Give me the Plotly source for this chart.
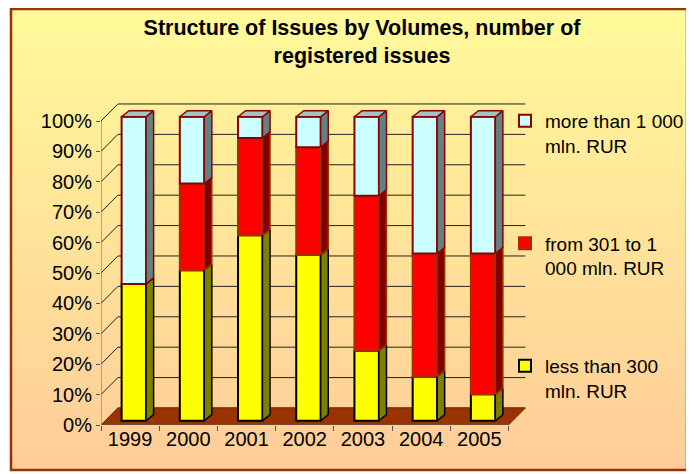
import base64
import plotly.graph_objects as go

# ---------------- data ----------------
years = ["1999", "2000", "2001", "2002", "2003", "2004", "2005"]
less_300 = [45.0, 49.5, 61.0, 54.5, 23.0, 14.5, 8.7]
from_301_1000 = [0.0, 28.5, 32.0, 35.5, 51.0, 40.5, 46.3]
more_1000 = [55.0, 22.0, 7.0, 10.0, 26.0, 45.0, 45.0]
series_names = ["less than 300<br>mln. RUR",
                "from 301 to 1<br>000 mln. RUR",
                "more than 1 000<br>mln. RUR"]
y_tick_vals = [0, 10, 20, 30, 40, 50, 60, 70, 80, 90, 100]
y_tick_text = [f"{v}%" for v in y_tick_vals]

# ---------------- style / geometry ----------------
# the page body has an 8px margin, so the figure is 8px smaller than the window
FONT = "Liberation Sans, Arial, sans-serif"
W, H = 686, 466
ML, MR, MT, MB = 93, 164, 87, 49
PW, PH = W - ML - MR, H - MT - MB
PX_PER_X = 58.21
PX_PER_Y = 3.04
XMIN = -0.5
XMAX = XMIN + PW / PX_PER_X
YMAX = PH / PX_PER_Y

DEPTH_X, DEPTH_Y = 0.29, 5.6          # full depth of the 3D box
BAR_OFF_X, BAR_OFF_Y = 0.064, 1.4      # bar front face offset inside box
BAR_W = 0.42
BAR_DX, BAR_DY = 0.13, 2.0             # bar depth

front_cols = ["#FFFF00", "#FF0000", "#CCFFFF"]
side_cols = ["#808000", "#800000", "#628282"]
line_cols = ["#000000", "#A33000", "#8B0000"]
top_col = "#9EC4C4"
ranks = [3, 2, 1]

series = [less_300, from_301_1000, more_1000]
n = len(years)
xpos = [i + BAR_OFF_X for i in range(n)]

bases = []
acc = [BAR_OFF_Y] * n
for s in series:
    bases.append(list(acc))
    acc = [a + v for a, v in zip(acc, s)]

fig = go.Figure()

# front faces
for k, s in enumerate(series):
    fig.add_trace(go.Bar(
        x=xpos, y=s, base=bases[k], width=BAR_W,
        name=series_names[k], legendgroup=f"g{k}", legendrank=ranks[k],
        marker=dict(color=front_cols[k], line=dict(color=line_cols[k], width=2)),
        hoverinfo="skip",
    ))

# side faces
for k, s in enumerate(series):
    xs, ys = [], []
    for i in range(n):
        if s[i] <= 0:
            continue
        xr = xpos[i] + BAR_W / 2
        y0 = bases[k][i]
        y1 = y0 + s[i]
        xs += [xr, xr + BAR_DX, xr + BAR_DX, xr, xr, None]
        ys += [y0, y0 + BAR_DY, y1 + BAR_DY, y1, y0, None]
    fig.add_trace(go.Scatter(
        x=xs, y=ys, mode="lines", fill="toself", fillcolor=side_cols[k],
        line=dict(color=line_cols[k], width=1.5), showlegend=False, hoverinfo="skip"))

# top faces (top of the stacks)
xs, ys = [], []
for i in range(n):
    xl = xpos[i] - BAR_W / 2
    xr = xpos[i] + BAR_W / 2
    yt = acc[i]
    xs += [xl, xl + BAR_DX, xr + BAR_DX, xr, xl, None]
    ys += [yt, yt + BAR_DY, yt + BAR_DY, yt, yt, None]
fig.add_trace(go.Scatter(
    x=xs, y=ys, mode="lines", fill="toself", fillcolor=top_col,
    line=dict(color=line_cols[2], width=1.5), showlegend=False, hoverinfo="skip"))

# ---------------- shapes: walls, grid, floor, axis lines ----------------
shapes = []
x_left = -0.5
x_right = n - 0.5
for v in y_tick_vals:
    shapes.append(dict(type="line", xref="x", yref="y", layer="below",
                       x0=x_left, y0=v, x1=x_left + DEPTH_X, y1=v + DEPTH_Y,
                       line=dict(color="#222222", width=1)))
    shapes.append(dict(type="line", xref="x", yref="y", layer="below",
                       x0=x_left + DEPTH_X, y0=v + DEPTH_Y, x1=x_right + DEPTH_X, y1=v + DEPTH_Y,
                       line=dict(color="#222222", width=1)))
floor_path = (f"M {x_left},0 L {x_right},0 L {x_right + DEPTH_X},{DEPTH_Y} "
              f"L {x_left + DEPTH_X},{DEPTH_Y} Z")
shapes.append(dict(type="path", xref="x", yref="y", layer="below", path=floor_path,
                   fillcolor="#993300", line=dict(color="#7A2800", width=1)))
shapes.append(dict(type="line", xref="x", yref="y", layer="above",
                   x0=x_left, y0=0, x1=x_right, y1=0, line=dict(color="#666666", width=1)))
shapes.append(dict(type="line", xref="x", yref="y", layer="above",
                   x0=x_left, y0=0, x1=x_left, y1=100, line=dict(color="#666666", width=1)))


def px_to_paper_x(px):
    return (px - ML) / PW


def px_to_paper_y(py):
    return (H - py - MB) / PH


# outer border
BX0, BY0, BX1, BY1 = 3, 1, 679, 462
shapes.append(dict(type="rect", xref="paper", yref="paper", layer="above",
                   x0=px_to_paper_x(BX0), x1=px_to_paper_x(BX1),
                   y0=px_to_paper_y(BY1), y1=px_to_paper_y(BY0),
                   line=dict(color="#993300", width=2.5), fillcolor="rgba(0,0,0,0)"))

# gradient background image
gw, gh = BX1 - BX0, BY1 - BY0
svg = (f'<svg xmlns="http://www.w3.org/2000/svg" width="{gw}" height="{gh}" '
       f'viewBox="0 0 {gw} {gh}" preserveAspectRatio="none">'
       '<defs><linearGradient id="g" x1="0" y1="0" x2="0" y2="1">'
       '<stop offset="0" stop-color="#FFFA99"/><stop offset="1" stop-color="#FFCC99"/>'
       '</linearGradient></defs>'
       f'<rect x="0" y="0" width="{gw}" height="{gh}" fill="url(#g)"/></svg>')
src = "data:image/svg+xml;base64," + base64.b64encode(svg.encode()).decode()

fig.update_layout(
    width=W, height=H,
    margin=dict(l=ML, r=MR, t=MT, b=MB, autoexpand=False),
    paper_bgcolor="white", plot_bgcolor="rgba(0,0,0,0)",
    barmode="overlay",
    font=dict(family=FONT, color="black", size=19),
    title=dict(text="<b>Structure of Issues by Volumes, number of<br>registered issues</b>",
               x=354 / W, xref="container", xanchor="center",
               y=1 - 27 / H, yref="container", yanchor="top",
               font=dict(family=FONT, size=21.5, color="black")),
    xaxis=dict(range=[XMIN, XMAX], tickvals=list(range(n)), ticktext=years,
               ticks="", showgrid=False, zeroline=False, showline=False,
               tickfont=dict(size=20, family=FONT, color="black"),
               minor=dict(tickvals=[i - 0.5 for i in range(n + 1)], ticks="outside",
                          ticklen=5, tickcolor="#555555", showgrid=False),
               fixedrange=True),
    yaxis=dict(range=[0, YMAX], tickvals=y_tick_vals, ticktext=y_tick_text,
               ticks="outside", ticklen=4, tickcolor="#555555",
               showgrid=False, zeroline=False, showline=False,
               tickfont=dict(size=20, family=FONT, color="black"),
               fixedrange=True),
    legend=dict(x=px_to_paper_x(497), xanchor="left", y=px_to_paper_y(94), yanchor="top",
                bgcolor="rgba(0,0,0,0)", borderwidth=0,
                font=dict(size=19, family=FONT, color="black"),
                traceorder="grouped", tracegroupgap=70, valign="top"),
    shapes=shapes,
    images=[dict(source=src, xref="paper", yref="paper",
                 x=px_to_paper_x(BX0), y=px_to_paper_y(BY0),
                 sizex=gw / PW, sizey=gh / PH, xanchor="left", yanchor="top",
                 sizing="stretch", layer="below")],
)

fig.write_html("out.html")
